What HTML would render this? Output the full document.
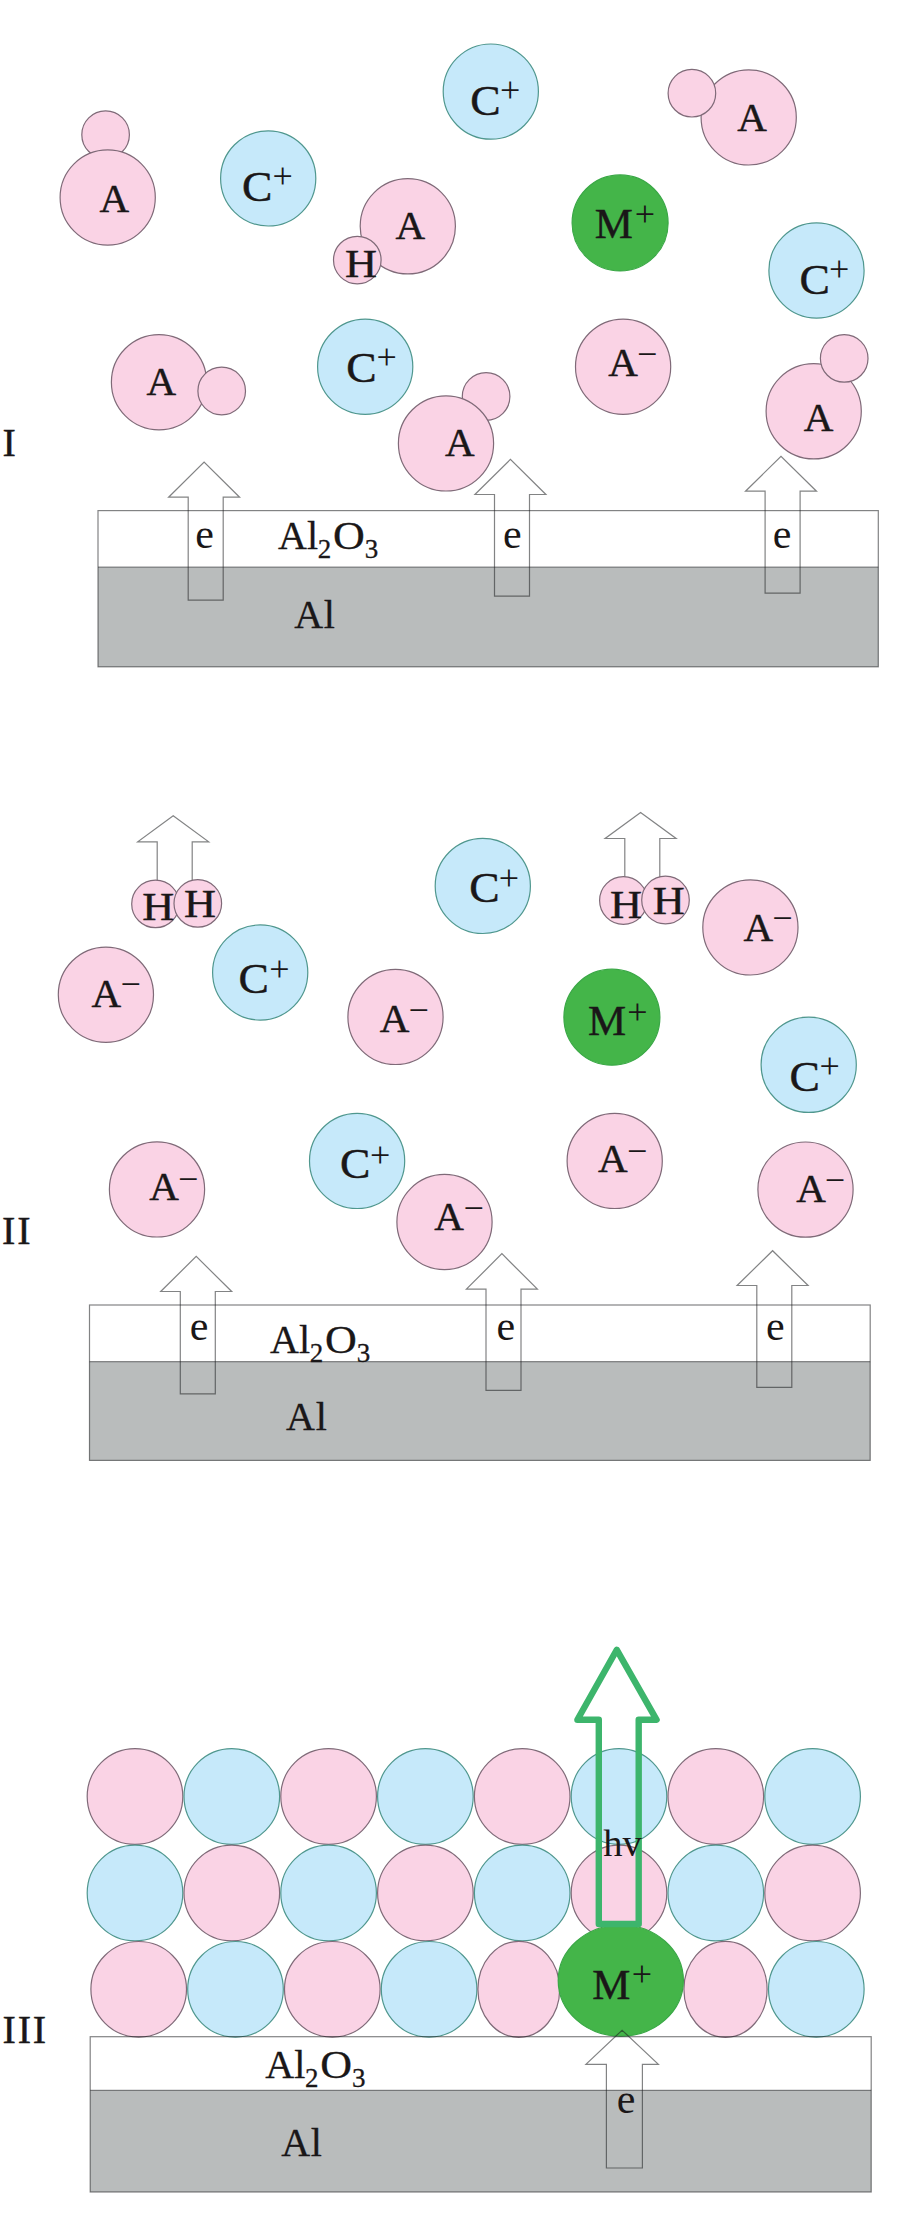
<!DOCTYPE html>
<html><head><meta charset="utf-8"><title>Figure</title>
<style>
html,body{margin:0;padding:0;background:#fff;}
svg{display:block;}
text{font-family:"Liberation Serif",serif;fill:#1a1718;stroke:#1a1718;stroke-width:0.45px;}
text.s{stroke:none;}
text.t{stroke-width:0.3px;}
</style></head><body>
<svg width="898" height="2213" viewBox="0 0 898 2213">
<rect width="898" height="2213" fill="#ffffff"/>
<circle cx="105.6" cy="134.7" r="23.8" fill="#fad3e5" stroke="#7f6a78" stroke-width="1.2"/>
<circle cx="107.7" cy="197.5" r="47.6" fill="#fad3e5" stroke="#7f6a78" stroke-width="1.2"/>
<circle cx="268.2" cy="178.4" r="47.6" fill="#c6e9fa" stroke="#4f978e" stroke-width="1.2"/>
<circle cx="490.8" cy="91.6" r="47.6" fill="#c6e9fa" stroke="#4f978e" stroke-width="1.2"/>
<circle cx="748.7" cy="117.4" r="47.6" fill="#fad3e5" stroke="#7f6a78" stroke-width="1.2"/>
<circle cx="691.9" cy="93.2" r="23.8" fill="#fad3e5" stroke="#7f6a78" stroke-width="1.2"/>
<circle cx="407.8" cy="226.3" r="47.6" fill="#fad3e5" stroke="#7f6a78" stroke-width="1.2"/>
<circle cx="357.3" cy="260.1" r="23.8" fill="#fad3e5" stroke="#7f6a78" stroke-width="1.2"/>
<circle cx="620.1" cy="222.9" r="48.0" fill="#44b549" stroke="#3aa846" stroke-width="1.2"/>
<circle cx="816.5" cy="270.5" r="47.6" fill="#c6e9fa" stroke="#4f978e" stroke-width="1.2"/>
<circle cx="159" cy="382.2" r="47.6" fill="#fad3e5" stroke="#7f6a78" stroke-width="1.2"/>
<circle cx="221.7" cy="391" r="23.8" fill="#fad3e5" stroke="#7f6a78" stroke-width="1.2"/>
<circle cx="365.2" cy="366.7" r="47.6" fill="#c6e9fa" stroke="#4f978e" stroke-width="1.2"/>
<circle cx="486.1" cy="396.5" r="23.8" fill="#fad3e5" stroke="#7f6a78" stroke-width="1.2"/>
<circle cx="446" cy="443.4" r="47.6" fill="#fad3e5" stroke="#7f6a78" stroke-width="1.2"/>
<circle cx="623.1" cy="366.7" r="47.6" fill="#fad3e5" stroke="#7f6a78" stroke-width="1.2"/>
<circle cx="813.7" cy="411.3" r="47.6" fill="#fad3e5" stroke="#7f6a78" stroke-width="1.2"/>
<circle cx="844.2" cy="358.4" r="23.8" fill="#fad3e5" stroke="#7f6a78" stroke-width="1.2"/>
<rect x="98" y="567.2" width="780.3" height="99.59999999999991" fill="#b9bcbc"/>
<rect x="98" y="510.6" width="780.3" height="156.19999999999993" fill="none" stroke="#1c1e1f" stroke-width="1.2" stroke-opacity="0.55"/>
<line x1="98" y1="567.2" x2="878.3" y2="567.2" stroke="#1c1e1f" stroke-width="1.2" stroke-opacity="0.5"/>
<path d="M188.2 600.2 L188.2 497.2 L168.6 497.2 L204.1 462.0 L239.6 497.2 L223.2 497.2 L223.2 600.2 Z" fill="none" stroke="#1c1e1f" stroke-width="1.2" stroke-opacity="0.55" stroke-linejoin="miter"/>
<path d="M494.5 596.2 L494.5 494.5 L474.9 494.5 L510.4 459.4 L545.9 494.5 L529.5 494.5 L529.5 596.2 Z" fill="none" stroke="#1c1e1f" stroke-width="1.2" stroke-opacity="0.55" stroke-linejoin="miter"/>
<path d="M765.1 593.2 L765.1 491.2 L745.5 491.2 L781.0 456.4 L816.5 491.2 L800.1 491.2 L800.1 593.2 Z" fill="none" stroke="#1c1e1f" stroke-width="1.2" stroke-opacity="0.55" stroke-linejoin="miter"/>
<text x="99.6" y="211.5" font-size="41">A</text>
<text transform="translate(242.0 200.9) scale(1.06 1)" font-size="43">C</text>
<text class="s" x="272.5" y="188.3" font-size="36">+</text>
<text transform="translate(470.2 115.1) scale(1.06 1)" font-size="43">C</text>
<text class="s" x="499.9" y="101.9" font-size="36">+</text>
<text x="737.3" y="131.0" font-size="41">A</text>
<text x="395.6" y="238.8" font-size="41">A</text>
<text transform="translate(345.1 276.9) scale(1.08 1)" font-size="41">H</text>
<text transform="translate(594.8 237.8) scale(1.02 1)" font-size="42">M</text>
<text class="s" x="634.7" y="226.2" font-size="36">+</text>
<text transform="translate(799.4 293.9) scale(1.06 1)" font-size="43">C</text>
<text class="s" x="828.9" y="281.0" font-size="36">+</text>
<text x="146.4" y="394.7" font-size="41">A</text>
<text transform="translate(346.3 381.7) scale(1.06 1)" font-size="43">C</text>
<text class="s" x="376.6" y="369.4" font-size="36">+</text>
<text x="445.1" y="455.8" font-size="41">A</text>
<text x="608.3" y="376.2" font-size="41">A</text>
<text class="s" x="637.0" y="366.2" font-size="36">−</text>
<text x="803.7" y="430.8" font-size="41">A</text>
<text x="195.2" y="547.5" font-size="42" class="s">e</text>
<text x="502.9" y="547.5" font-size="42" class="s">e</text>
<text x="772.8" y="547.5" font-size="42" class="s">e</text>
<text class="t" y="548.6" font-size="40"><tspan x="278.0">A</tspan><tspan x="307.0">l</tspan><tspan x="317.7" dy="9" font-size="27">2</tspan><tspan x="364.7" font-size="27">3</tspan></text>
<text class="t" transform="translate(333.0 548.6) scale(1.1 1)" font-size="40">O</text>
<text class="t" y="627.8" font-size="40"><tspan x="294.2">A</tspan><tspan x="323.8">l</tspan></text>
<text x="2.6" y="456.4" font-size="40">I</text>
<path d="M157.2 900.0 L157.2 841.8 L137.7 841.8 L173.2 815.7 L208.7 841.8 L192.2 841.8 L192.2 900.0" fill="none" stroke="#1c1e1f" stroke-width="1.2" stroke-opacity="0.55" stroke-linejoin="miter"/>
<path d="M624.8 897.0 L624.8 838.5 L605.1 838.5 L640.6 812.4 L676.1 838.5 L659.8 838.5 L659.8 897.0" fill="none" stroke="#1c1e1f" stroke-width="1.2" stroke-opacity="0.55" stroke-linejoin="miter"/>
<circle cx="155.5" cy="903.9" r="23.8" fill="#fad3e5" stroke="#7f6a78" stroke-width="1.2"/>
<circle cx="197.8" cy="903.4" r="23.8" fill="#fad3e5" stroke="#7f6a78" stroke-width="1.2"/>
<circle cx="623.4" cy="900.5" r="23.8" fill="#fad3e5" stroke="#7f6a78" stroke-width="1.2"/>
<circle cx="665.5" cy="900" r="23.8" fill="#fad3e5" stroke="#7f6a78" stroke-width="1.2"/>
<circle cx="105.9" cy="994.7" r="47.6" fill="#fad3e5" stroke="#7f6a78" stroke-width="1.2"/>
<circle cx="260.2" cy="972.5" r="47.6" fill="#c6e9fa" stroke="#4f978e" stroke-width="1.2"/>
<circle cx="482.8" cy="885.9" r="47.6" fill="#c6e9fa" stroke="#4f978e" stroke-width="1.2"/>
<circle cx="395.5" cy="1016.9" r="47.6" fill="#fad3e5" stroke="#7f6a78" stroke-width="1.2"/>
<circle cx="750.4" cy="927.4" r="47.6" fill="#fad3e5" stroke="#7f6a78" stroke-width="1.2"/>
<circle cx="611.9" cy="1017.2" r="48.0" fill="#44b549" stroke="#3aa846" stroke-width="1.2"/>
<circle cx="808.7" cy="1064.8" r="47.6" fill="#c6e9fa" stroke="#4f978e" stroke-width="1.2"/>
<circle cx="157" cy="1189.4" r="47.6" fill="#fad3e5" stroke="#7f6a78" stroke-width="1.2"/>
<circle cx="357.1" cy="1160.9" r="47.6" fill="#c6e9fa" stroke="#4f978e" stroke-width="1.2"/>
<circle cx="444.5" cy="1222" r="47.6" fill="#fad3e5" stroke="#7f6a78" stroke-width="1.2"/>
<circle cx="614.7" cy="1160.9" r="47.6" fill="#fad3e5" stroke="#7f6a78" stroke-width="1.2"/>
<circle cx="805.5" cy="1189.6" r="47.6" fill="#fad3e5" stroke="#7f6a78" stroke-width="1.2"/>
<rect x="89.5" y="1361.7" width="780.7" height="98.70000000000005" fill="#b9bcbc"/>
<rect x="89.5" y="1305" width="780.7" height="155.4000000000001" fill="none" stroke="#1c1e1f" stroke-width="1.2" stroke-opacity="0.55"/>
<line x1="89.5" y1="1361.7" x2="870.2" y2="1361.7" stroke="#1c1e1f" stroke-width="1.2" stroke-opacity="0.5"/>
<path d="M180.3 1393.8 L180.3 1291.5 L160.7 1291.5 L196.2 1256.4 L231.7 1291.5 L215.3 1291.5 L215.3 1393.8 Z" fill="none" stroke="#1c1e1f" stroke-width="1.2" stroke-opacity="0.55" stroke-linejoin="miter"/>
<path d="M486.0 1390.3 L486.0 1289.2 L466.4 1289.2 L501.9 1253.7 L537.4 1289.2 L521.0 1289.2 L521.0 1390.3 Z" fill="none" stroke="#1c1e1f" stroke-width="1.2" stroke-opacity="0.55" stroke-linejoin="miter"/>
<path d="M756.8 1387.3 L756.8 1285.5 L737.1 1285.5 L772.6 1250.7 L808.1 1285.5 L791.8 1285.5 L791.8 1387.3 Z" fill="none" stroke="#1c1e1f" stroke-width="1.2" stroke-opacity="0.55" stroke-linejoin="miter"/>
<text transform="translate(142.3 919.8) scale(1.08 1)" font-size="41">H</text>
<text transform="translate(184.0 917.3) scale(1.08 1)" font-size="41">H</text>
<text transform="translate(610.1 917.7) scale(1.08 1)" font-size="41">H</text>
<text transform="translate(652.8 914.3) scale(1.08 1)" font-size="41">H</text>
<text x="91.6" y="1006.9" font-size="41">A</text>
<text class="s" x="120.5" y="996.4" font-size="36">−</text>
<text transform="translate(238.5 993.2) scale(1.06 1)" font-size="43">C</text>
<text class="s" x="269.3" y="980.6" font-size="36">+</text>
<text transform="translate(469.2 901.6) scale(1.06 1)" font-size="43">C</text>
<text class="s" x="498.7" y="890.2" font-size="36">+</text>
<text x="379.8" y="1032.3" font-size="41">A</text>
<text class="s" x="408.5" y="1021.9" font-size="36">−</text>
<text x="743.6" y="941.0" font-size="41">A</text>
<text class="s" x="772.3" y="930.0" font-size="36">−</text>
<text transform="translate(588.0 1035.1) scale(1.02 1)" font-size="42">M</text>
<text class="s" x="627.3" y="1024.2" font-size="36">+</text>
<text transform="translate(789.5 1091.0) scale(1.06 1)" font-size="43">C</text>
<text class="s" x="819.5" y="1078.4" font-size="36">+</text>
<text x="149.3" y="1200.3" font-size="41">A</text>
<text class="s" x="178.0" y="1190.6" font-size="36">−</text>
<text transform="translate(339.9 1178.2) scale(1.06 1)" font-size="43">C</text>
<text class="s" x="370.0" y="1166.8" font-size="36">+</text>
<text x="434.2" y="1229.7" font-size="41">A</text>
<text class="s" x="463.6" y="1219.6" font-size="36">−</text>
<text x="597.9" y="1172.3" font-size="41">A</text>
<text class="s" x="627.1" y="1162.5" font-size="36">−</text>
<text x="796.3" y="1201.6" font-size="41">A</text>
<text class="s" x="824.8" y="1191.9" font-size="36">−</text>
<text x="189.8" y="1339.9" font-size="42" class="s">e</text>
<text x="496.5" y="1339.9" font-size="42" class="s">e</text>
<text x="766.1" y="1339.9" font-size="42" class="s">e</text>
<text class="t" y="1352.7" font-size="40"><tspan x="270.1">A</tspan><tspan x="299.1">l</tspan><tspan x="309.8" dy="9" font-size="27">2</tspan><tspan x="356.8" font-size="27">3</tspan></text>
<text class="t" transform="translate(325.1 1352.7) scale(1.1 1)" font-size="40">O</text>
<text class="t" y="1430.4" font-size="40"><tspan x="286.1">A</tspan><tspan x="315.7">l</tspan></text>
<text x="1.9" y="1243.7" font-size="40" letter-spacing="2">II</text>
<circle cx="135.0" cy="1796.5" r="47.8" fill="#fad3e5" stroke="#7f6a78" stroke-width="1.2"/>
<circle cx="231.8" cy="1796.5" r="47.8" fill="#c6e9fa" stroke="#4f978e" stroke-width="1.2"/>
<circle cx="328.6" cy="1796.5" r="47.8" fill="#fad3e5" stroke="#7f6a78" stroke-width="1.2"/>
<circle cx="425.4" cy="1796.5" r="47.8" fill="#c6e9fa" stroke="#4f978e" stroke-width="1.2"/>
<circle cx="522.2" cy="1796.5" r="47.8" fill="#fad3e5" stroke="#7f6a78" stroke-width="1.2"/>
<circle cx="619.0" cy="1796.5" r="47.8" fill="#c6e9fa" stroke="#4f978e" stroke-width="1.2"/>
<circle cx="715.8" cy="1796.5" r="47.8" fill="#fad3e5" stroke="#7f6a78" stroke-width="1.2"/>
<circle cx="812.6" cy="1796.5" r="47.8" fill="#c6e9fa" stroke="#4f978e" stroke-width="1.2"/>
<circle cx="135.0" cy="1893" r="47.8" fill="#c6e9fa" stroke="#4f978e" stroke-width="1.2"/>
<circle cx="231.8" cy="1893" r="47.8" fill="#fad3e5" stroke="#7f6a78" stroke-width="1.2"/>
<circle cx="328.6" cy="1893" r="47.8" fill="#c6e9fa" stroke="#4f978e" stroke-width="1.2"/>
<circle cx="425.4" cy="1893" r="47.8" fill="#fad3e5" stroke="#7f6a78" stroke-width="1.2"/>
<circle cx="522.2" cy="1893" r="47.8" fill="#c6e9fa" stroke="#4f978e" stroke-width="1.2"/>
<circle cx="619.0" cy="1893" r="47.8" fill="#fad3e5" stroke="#7f6a78" stroke-width="1.2"/>
<circle cx="715.8" cy="1893" r="47.8" fill="#c6e9fa" stroke="#4f978e" stroke-width="1.2"/>
<circle cx="812.6" cy="1893" r="47.8" fill="#fad3e5" stroke="#7f6a78" stroke-width="1.2"/>
<circle cx="138.7" cy="1989.3" r="47.8" fill="#fad3e5" stroke="#7f6a78" stroke-width="1.2"/>
<circle cx="235.5" cy="1989.3" r="47.8" fill="#c6e9fa" stroke="#4f978e" stroke-width="1.2"/>
<circle cx="332.3" cy="1989.3" r="47.8" fill="#fad3e5" stroke="#7f6a78" stroke-width="1.2"/>
<circle cx="429.1" cy="1989.3" r="47.8" fill="#c6e9fa" stroke="#4f978e" stroke-width="1.2"/>
<ellipse cx="518.8" cy="1989.3" rx="40.9" ry="48" fill="#fad3e5" stroke="#7f6a78" stroke-width="1.2"/>
<ellipse cx="725.5" cy="1989.3" rx="41.6" ry="48" fill="#fad3e5" stroke="#7f6a78" stroke-width="1.2"/>
<circle cx="816.3" cy="1989.3" r="47.8" fill="#c6e9fa" stroke="#4f978e" stroke-width="1.2"/>
<ellipse cx="620.8" cy="1980.6" rx="62.6" ry="55.6" fill="#44b549" stroke="#3aa846" stroke-width="1.2"/>
<rect x="90.2" y="2090.3" width="781.0" height="101.69999999999982" fill="#b9bcbc"/>
<rect x="90.2" y="2036.7" width="781.0" height="155.29999999999995" fill="none" stroke="#1c1e1f" stroke-width="1.2" stroke-opacity="0.55"/>
<line x1="90.2" y1="2090.3" x2="871.2" y2="2090.3" stroke="#1c1e1f" stroke-width="1.2" stroke-opacity="0.5"/>
<path d="M606.4 2168.0 L606.4 2064.3 L585.9 2064.3 L622.1 2030.2 L658.4 2064.3 L642.4 2064.3 L642.4 2168.0 Z" fill="none" stroke="#1c1e1f" stroke-width="1.2" stroke-opacity="0.55" stroke-linejoin="miter"/>
<path d="M598.8 1924 L598.8 1719.8 L577.4 1719.8 L616.8 1649.8 L656.6 1719.8 L638.7 1719.8 L638.7 1924 Z" fill="none" stroke="#3db56c" stroke-width="6.4" stroke-linejoin="round"/>
<text x="603.2" y="1856.2" font-size="38.5" class="s">hv</text>
<text transform="translate(592.2 1998.5) scale(1.02 1)" font-size="42">M</text>
<text class="s" x="631.7" y="1985.9" font-size="36">+</text>
<text x="616.8" y="2113.4" font-size="42" class="s">e</text>
<text class="t" y="2077.8" font-size="40"><tspan x="265.2">A</tspan><tspan x="294.2">l</tspan><tspan x="304.9" dy="9" font-size="27">2</tspan><tspan x="351.9" font-size="27">3</tspan></text>
<text class="t" transform="translate(320.2 2077.8) scale(1.1 1)" font-size="40">O</text>
<text class="t" y="2155.5" font-size="40"><tspan x="281.2">A</tspan><tspan x="310.8">l</tspan></text>
<text x="2.6" y="2042.7" font-size="40" letter-spacing="1.8">III</text>
</svg>
</body></html>
